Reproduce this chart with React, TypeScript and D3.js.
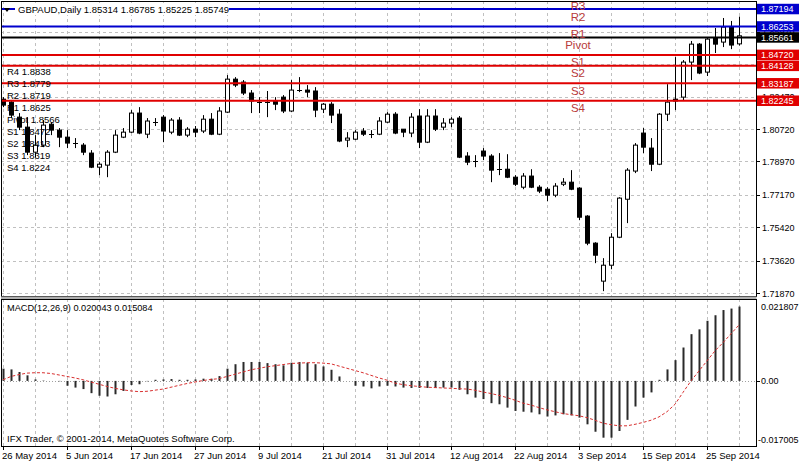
import React from "react";
import * as d3 from "d3";

const symbolName = "GBPAUD,Daily";
const dateLabels = ["26 May 2014","5 Jun 2014","17 Jun 2014","27 Jun 2014","9 Jul 2014","21 Jul 2014","31 Jul 2014","12 Aug 2014","22 Aug 2014","3 Sep 2014","15 Sep 2014","25 Sep 2014"];

const opens = [1.8233,1.8217,1.8136,1.8082,1.7947,1.7985,1.8098,1.8066,1.8028,1.7996,1.7985,1.7942,1.7866,1.7877,1.7947,1.8028,1.8055,1.8158,1.8044,1.8109,1.8136,1.8055,1.8120,1.8039,1.8071,1.8061,1.8125,1.8044,1.8163,1.8341,1.8325,1.8266,1.8217,1.8215,1.8223,1.8244,1.8169,1.8282,1.8282,1.8277,1.8179,1.8206,1.8152,1.8012,1.8017,1.8061,1.8044,1.8044,1.8109,1.8152,1.8071,1.8050,1.8142,1.8001,1.8142,1.8082,1.8104,1.8131,1.7926,1.7899,1.7953,1.7926,1.7855,1.7855,1.7812,1.7758,1.7818,1.7758,1.7747,1.7715,1.7774,1.7785,1.7753,1.7602,1.7456,1.7251,1.7337,1.7488,1.7693,1.7845,1.8050,1.7969,1.7882,1.8152,1.8233,1.8244,1.8433,1.8530,1.8379,1.8563,1.8541,1.8622,1.85314];
const highs = [1.8244,1.8228,1.8158,1.8136,1.8039,1.8120,1.8109,1.8077,1.8066,1.8023,1.7996,1.7958,1.7893,1.7958,1.8066,1.8077,1.8174,1.8190,1.8131,1.8131,1.8147,1.8131,1.8136,1.8082,1.8088,1.8147,1.8158,1.8190,1.8363,1.8352,1.8336,1.8282,1.8244,1.8277,1.8244,1.8255,1.8336,1.8352,1.8309,1.8298,1.8212,1.8217,1.8179,1.8055,1.8066,1.8077,1.8066,1.8136,1.8163,1.8163,1.8071,1.8158,1.8179,1.8179,1.8179,1.8131,1.8136,1.8142,1.7947,1.7931,1.7969,1.7936,1.7942,1.7936,1.7823,1.7834,1.7855,1.7769,1.7758,1.7780,1.7807,1.7850,1.7758,1.7607,1.7461,1.7375,1.7510,1.7704,1.7861,1.7996,1.8077,1.8023,1.8158,1.8314,1.8460,1.8444,1.8547,1.8536,1.8568,1.8617,1.8671,1.8655,1.86785];
const lows = [1.8190,1.8131,1.8066,1.7931,1.7920,1.7974,1.8039,1.7974,1.7969,1.7969,1.7931,1.7861,1.7823,1.7812,1.7942,1.8023,1.8050,1.8044,1.8023,1.8088,1.8001,1.8044,1.8034,1.8028,1.8028,1.8050,1.8039,1.8039,1.8158,1.8298,1.8255,1.8158,1.8158,1.8136,1.8174,1.8158,1.8163,1.8271,1.8244,1.8136,1.8158,1.8104,1.8001,1.7974,1.8012,1.8034,1.8023,1.8039,1.8104,1.8044,1.8028,1.8028,1.7969,1.7996,1.8061,1.8066,1.8082,1.7915,1.7877,1.7866,1.7904,1.7785,1.7823,1.7807,1.7764,1.7747,1.7753,1.7726,1.7683,1.7704,1.7764,1.7742,1.7580,1.7445,1.7348,1.7197,1.7315,1.7483,1.7564,1.7834,1.7942,1.7845,1.7877,1.8115,1.8174,1.8223,1.8336,1.8368,1.8358,1.8482,1.8514,1.8503,1.85225];
const closes = [1.8201,1.8147,1.8082,1.7947,1.7985,1.8093,1.8066,1.8028,1.7996,1.7994,1.7947,1.7866,1.7882,1.7947,1.8039,1.8055,1.8158,1.8050,1.8115,1.8111,1.8061,1.8120,1.8039,1.8071,1.8055,1.8125,1.8044,1.8169,1.8341,1.8309,1.8266,1.8223,1.8215,1.8217,1.8206,1.8169,1.8282,1.8280,1.8271,1.8174,1.8206,1.8147,1.8007,1.8023,1.8055,1.8044,1.8042,1.8115,1.8152,1.8050,1.8055,1.8136,1.8001,1.8142,1.8071,1.8104,1.8125,1.7920,1.7893,1.7897,1.7926,1.7850,1.7853,1.7812,1.7774,1.7818,1.7758,1.7737,1.7715,1.7764,1.7785,1.7747,1.7596,1.7456,1.7391,1.7337,1.7488,1.7699,1.7850,1.7985,1.7974,1.7882,1.8152,1.8217,1.8223,1.8433,1.8530,1.8374,1.8557,1.8530,1.8622,1.8525,1.85749];

const macdMain = [0.0033,0.0031,0.0024,0.0015,0.0004,0.0001,0.0000,-0.0001,-0.0013,-0.0018,-0.0022,-0.0033,-0.0040,-0.0042,-0.0036,-0.0027,-0.0011,-0.0009,-0.0001,0.0003,0.0004,0.0005,0.0003,0.0003,0.0004,0.0006,0.0006,0.0013,0.0033,0.0045,0.0051,0.0051,0.0051,0.0048,0.0045,0.0042,0.0049,0.0051,0.0049,0.0045,0.0039,0.0030,0.0012,0.0000,-0.0013,-0.0015,-0.0020,-0.0015,-0.0013,-0.0015,-0.0018,-0.0019,-0.0019,-0.0019,-0.0019,-0.0018,-0.0018,-0.0024,-0.0036,-0.0045,-0.0049,-0.0060,-0.0063,-0.0072,-0.0081,-0.0083,-0.0085,-0.0090,-0.0096,-0.0093,-0.0090,-0.0093,-0.0099,-0.0117,-0.0137,-0.0153,-0.0153,-0.0135,-0.0105,-0.0069,-0.0045,-0.0031,0.0003,0.0031,0.0056,0.0090,0.0126,0.0139,0.0162,0.0177,0.0191,0.0195,0.020043];
const macdSignal = [0.0003,0.0012,0.0017,0.0021,0.0022,0.0022,0.0020,0.0016,0.0012,0.0008,0.0003,-0.0003,-0.0009,-0.0015,-0.0020,-0.0024,-0.0027,-0.0029,-0.0028,-0.0025,-0.0022,-0.0017,-0.0012,-0.0007,-0.0003,0.0001,0.0004,0.0006,0.0012,0.0018,0.0024,0.0030,0.0034,0.0038,0.0041,0.0044,0.0047,0.0048,0.0049,0.0049,0.0048,0.0046,0.0040,0.0034,0.0028,0.0022,0.0015,0.0008,0.0002,-0.0006,-0.0010,-0.0013,-0.0015,-0.0017,-0.0018,-0.0019,-0.0020,-0.0021,-0.0022,-0.0025,-0.0030,-0.0034,-0.0039,-0.0045,-0.0052,-0.0060,-0.0065,-0.0072,-0.0078,-0.0083,-0.0088,-0.0091,-0.0094,-0.0099,-0.0106,-0.0114,-0.0118,-0.0121,-0.0121,-0.0117,-0.0112,-0.0106,-0.0097,-0.0083,-0.0063,-0.0031,0.0000,0.0027,0.0054,0.0081,0.0103,0.0127,0.015084];

const priceTicks = [1.85970,1.84220,1.82470,1.80720,1.78970,1.77170,1.75420,1.73620,1.71870];
const macdTicks = [0.021807, 0.0, -0.017005];

const pivotNames = ["R4","R3","R2","R1","Pivot","S1","S2","S3","S4"];
const pivotShort = [1.8838,1.8779,1.8719,1.8625,1.8566,1.8472,1.8413,1.8319,1.8224];
const pivotLevels = [1.88380,1.87790,1.87194,1.86253,1.85661,1.84720,1.84128,1.83187,1.82245];
const pivotColors = ["#0000cd","#0000cd","#0000cd","#0000cd","#000000","#e00000","#e00000","#e00000","#e00000"];

const FONT = "'Liberation Sans', Arial, sans-serif";

export default function App() {
  const n = closes.length;
  const PL = 1, PR = 756, PT = 1, PB = 296, MT = 299, MB = 446;
  const x = d3.scaleLinear().domain([0, n - 1]).range([3, 3 + 8 * (n - 1)]);
  const y = d3.scaleLinear().domain([1.7187, 1.8072]).range([293, 129]);
  const ym = d3.scaleLinear().domain([-0.017005, 0.021807]).range([444, 300]);
  const idx = d3.range(n);
  const gridIdx = d3.range(0, n, 4);
  const labelIdx = d3.range(0, n, 8);
  const sigLine = d3.line<number>().x((i) => x(i)).y((i) => ym(macdSignal[i]));
  const last = n - 1;
  const header = `${symbolName}  ${opens[last].toFixed(5)} ${highs[last].toFixed(5)} ${lows[last].toFixed(5)} ${closes[last].toFixed(5)}`;
  const macdHeader = `MACD(12,26,9) ${macdMain[last].toFixed(6)} ${macdSignal[last].toFixed(6)}`;
  const visiblePivots = pivotLevels.map((v, i) => i).filter((i) => y(pivotLevels[i]) > PT && y(pivotLevels[i]) < PB);
  // tick labels fully hidden behind the level boxes are not drawn (as in the reference)
  const shownTicks = priceTicks.filter((t) => !visiblePivots.some((i) => Math.abs(y(pivotLevels[i]) - y(t)) < 3.5));
  const BH = 10.5;

  return (
    <svg width={799} height={464} style={{ position: "absolute", left: 0, top: 0, background: "#fff" }} fontFamily={FONT} fontSize={9.5}>
      <defs>
        <clipPath id="mainClip"><rect x={PL} y={PT} width={PR - PL} height={PB - PT} /></clipPath>
        <clipPath id="macdClip"><rect x={PL} y={MT} width={PR - PL} height={MB - MT} /></clipPath>
      </defs>
      <rect x={0} y={0} width={799} height={464} fill="#fff" />
      <g clipPath="url(#mainClip)" stroke="#c0c0c0" strokeDasharray="3 3" strokeWidth={1}>
        {gridIdx.map((i) => (
          <line key={"gx" + i} x1={Math.round(x(i)) + 0.5} x2={Math.round(x(i)) + 0.5} y1={PT} y2={PB} />
        ))}
        {priceTicks.map((t) => (
          <line key={"gy" + t} x1={PL} x2={PR} y1={Math.round(y(t)) + 0.5} y2={Math.round(y(t)) + 0.5} />
        ))}
      </g>
      <g clipPath="url(#macdClip)" stroke="#c0c0c0" strokeDasharray="3 3" strokeWidth={1}>
        {gridIdx.map((i) => (
          <line key={"mgx" + i} x1={Math.round(x(i)) + 0.5} x2={Math.round(x(i)) + 0.5} y1={MT} y2={MB} />
        ))}
        <line x1={PL} x2={PR} y1={Math.round(ym(0)) + 0.5} y2={Math.round(ym(0)) + 0.5} stroke="#a0a0a0" strokeDasharray="1 2" />
      </g>
      <g clipPath="url(#mainClip)">
        {idx.map((i) => {
          const cx = Math.round(x(i)) + 0.5;
          const o = y(opens[i]), c = y(closes[i]);
          const top = Math.min(o, c), bot = Math.max(o, c);
          const up = closes[i] >= opens[i];
          const h = Math.max(bot - top, 0);
          return (
            <g key={"c" + i}>
              <line x1={cx} x2={cx} y1={y(highs[i])} y2={y(lows[i])} stroke="#000" strokeWidth={1} />
              {h < 1.2 ? (
                <line x1={cx - 2.5} x2={cx + 2.5} y1={Math.round(top) + 0.5} y2={Math.round(top) + 0.5} stroke="#000" />
              ) : (
                <rect x={cx - 2} y={top} width={4} height={h} fill={up ? "#fff" : "#000"} stroke="#000" strokeWidth={1} />
              )}
            </g>
          );
        })}
      </g>
      <g clipPath="url(#mainClip)">
        {pivotLevels.map((v, i) => (
          <line key={"pl" + i} x1={PL} x2={PR} y1={y(v)} y2={y(v)} stroke={pivotColors[i]} strokeWidth={2} />
        ))}
        {pivotLevels.map((v, i) => (
          <text key={"pt" + i} x={578} y={y(v) + 11.5} textAnchor="middle" fontSize={11.5} fill="#b83a3a">{pivotNames[i]}</text>
        ))}
        {pivotNames.map((nm, i) => (
          <text key={"pk" + i} x={7} y={74.5 + i * 12} fill="#000">{`${nm} ${pivotShort[i].toFixed(4)}`}</text>
        ))}
      </g>
      <rect x={15} y={3} width={214} height={12} fill="#fff" />
      <path d="M4,8 L10,8 L7,12 Z" fill="#000" />
      <text x={18} y={12.5} fill="#000">{header}</text>
      <g clipPath="url(#macdClip)">
        {idx.map((i) => {
          const v = macdMain[i];
          const y0 = ym(0), y1 = ym(v);
          return <rect key={"m" + i} x={Math.round(x(i)) - 0.5} y={Math.min(y0, y1)} width={2} height={Math.abs(y1 - y0)} fill="#2a2a2a" />;
        })}
        <path d={sigLine(idx) || ""} fill="none" stroke="#d83030" strokeWidth={1} strokeDasharray="3 2" />
      </g>
      <text x={7} y={311} fill="#000" fontSize={9.2}>{macdHeader}</text>
      <text x={7} y={442} fill="#000">IFX Trader, © 2001-2014, MetaQuotes Software Corp.</text>
      <rect x={PL + 0.5} y={PT + 0.5} width={PR - PL} height={PB - PT} fill="none" stroke="#000" />
      <rect x={PL} y={PB + 0.5} width={PR - PL + 0.5} height={MT - PB} fill="#b0b0b0" />
      <rect x={PL + 0.5} y={MT + 0.5} width={PR - PL} height={MB - MT} fill="none" stroke="#000" />
      {priceTicks.map((t) => (
        <line key={"pa" + t} x1={PR} x2={PR + 4} y1={Math.round(y(t)) + 0.5} y2={Math.round(y(t)) + 0.5} stroke="#000" />
      ))}
      {shownTicks.map((t) => (
        <text key={"pat" + t} x={762} y={y(t) + 3.5} fill="#000" fontSize={9}>{t.toFixed(5)}</text>
      ))}
      {visiblePivots.map((i) => (
        <g key={"pb" + i}>
          <rect x={757} y={y(pivotLevels[i]) - BH / 2} width={42} height={BH} fill={pivotColors[i]} />
          <text x={761} y={y(pivotLevels[i]) + 3.3} fill="#fff" fontSize={9}>{pivotLevels[i].toFixed(5)}</text>
        </g>
      ))}
      <line x1={PR + 0.5} x2={PR + 4} y1={Math.round(ym(0)) + 0.5} y2={Math.round(ym(0)) + 0.5} stroke="#000" />
      <text x={761} y={ym(macdTicks[0]) + 10} fill="#000" fontSize={9}>{macdTicks[0].toFixed(6)}</text>
      <text x={761} y={ym(macdTicks[1]) + 3.5} fill="#000" fontSize={9}>{macdTicks[1].toFixed(2)}</text>
      <text x={758} y={ym(macdTicks[2]) - 1} fill="#000" fontSize={9}>{macdTicks[2].toFixed(6)}</text>
      {labelIdx.map((i, k) => (
        <g key={"da" + i}>
          <line x1={Math.round(x(i)) + 0.5} x2={Math.round(x(i)) + 0.5} y1={MB} y2={MB + 4} stroke="#000" />
          <text x={Math.round(x(i)) - 1} y={459} fill="#000">{dateLabels[k]}</text>
        </g>
      ))}
    </svg>
  );
}
